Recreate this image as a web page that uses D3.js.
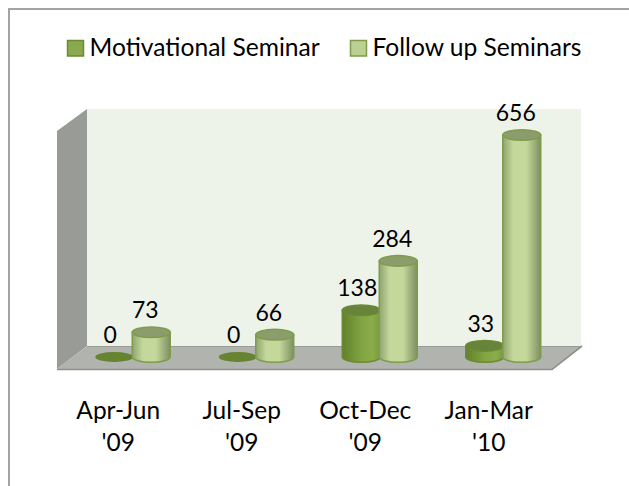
<!DOCTYPE html>
<html><head><meta charset="utf-8">
<script src="https://cdn.jsdelivr.net/npm/d3@7"></script>
<style>html,body{margin:0;padding:0;background:#fff}svg{display:block}text{font-family:Lato,sans-serif;fill:#000}</style>
</head><body>
<svg id="c" width="629" height="486"></svg>
<script>
const categories=[["Apr-Jun","'09"],["Jul-Sep","'09"],["Oct-Dec","'09"],["Jan-Mar","'10"]];
const seriesNames=["Motivational Seminar","Follow up Seminars"];
const motivational=[0,0,138,33];
const followUp=[73,66,284,656];

const svg=d3.select("#c");
const W=629,H=486;
const line=d3.line();
svg.append("path").attr("d",line([[9,H],[9,9],[W,9]])).attr("fill","none").attr("stroke","#a3a3a3").attr("stroke-width",2);

const defs=svg.append("defs");
const grads=[
  [[0,"#628029"],[.5,"#82a443"],[.8,"#8aac49"],[1,"#7a9a3e"]],
  [[0,"#8fa56e"],[.28,"#c5d89c"],[.62,"#c5d89c"],[1,"#7d8f60"]]
];
grads.forEach((stops,i)=>{
  const g=defs.append("linearGradient").attr("id","g"+i);
  stops.forEach(s=>g.append("stop").attr("offset",s[0]).attr("stop-color",s[1]));
});
const edge=["#6b8a35","#7f9c4a"],cap=["#67843a","#8b9d6d"];

const x=d3.scaleBand().domain(d3.range(4)).range([71,565]);
const y=d3.scaleLinear().domain([0,656]).range([357,135]);
const barW=38,ry=5.3;

svg.append("path").attr("d",line([[87,109],[581,109],[581,346],[87,346]])+"Z").attr("fill","#eef3ea");
svg.append("path").attr("d",line([[57,131],[87,109],[87,346],[57,369]])+"Z").attr("fill","#989b96");
svg.append("path").attr("d",line([[57,369],[87,346],[582,346],[552,369]])+"Z").attr("fill","#b1b3ae");
svg.append("path").attr("d",line([[87,346.5],[581,346.5]])).attr("stroke","#989b96").attr("stroke-width",1);
svg.append("path").attr("d",line([[57,369.5],[552,369.5],[582,346]])).attr("fill","none").attr("stroke","#8f918d").attr("stroke-width",1.6);

function cyl(cx,v,i){
  const g=svg.append("g"),yt=y(v),yb=y(0),r=barW/2;
  if(v>0){
    g.append("path")
     .attr("d",`M${cx-r},${yt}L${cx-r},${yb}A${r},${ry} 0 0 0 ${cx+r},${yb}L${cx+r},${yt}Z`)
     .attr("fill",`url(#g${i})`).attr("stroke",edge[i]).attr("stroke-width",1.5);
    g.append("ellipse").attr("cx",cx).attr("cy",yt).attr("rx",r).attr("ry",ry).attr("fill",cap[i]).attr("stroke",edge[i]).attr("stroke-width",1.5);
  } else {
    g.append("ellipse").attr("cx",cx).attr("cy",yb).attr("rx",r).attr("ry",ry-.3).attr("fill","#66842f");
  }
}
const lab=(cx,yy,t,fs)=>svg.append("text").attr("x",cx).attr("y",yy).attr("text-anchor","middle").attr("font-size",fs).text(t);

categories.forEach((c,k)=>{
  const mid=x(k)+x.bandwidth()/2;
  const cm=mid-18.5, cf=mid+18.5;
  cyl(cm,motivational[k],0);
  cyl(cf,followUp[k],1);
  lab(cm-4,y(motivational[k])-14,motivational[k],23);
  lab(cf-6,y(followUp[k])-14,followUp[k],23);
  lab(mid-14.5,419,c[0],24.5);
  lab(mid-14.5,451,c[1],24.5);
});

const legX=[67.5,350.5],legS=["#8aa84e","#bdd094"];
seriesNames.forEach((n,i)=>{
  svg.append("rect").attr("x",legX[i]).attr("y",40.5).attr("width",16).attr("height",15.5).attr("fill",legS[i]).attr("stroke",edge[i]).attr("stroke-width",1.5);
  svg.append("text").attr("x",legX[i]+22).attr("y",56).attr("font-size",24.6).text(n);
});
</script>
</body></html>
